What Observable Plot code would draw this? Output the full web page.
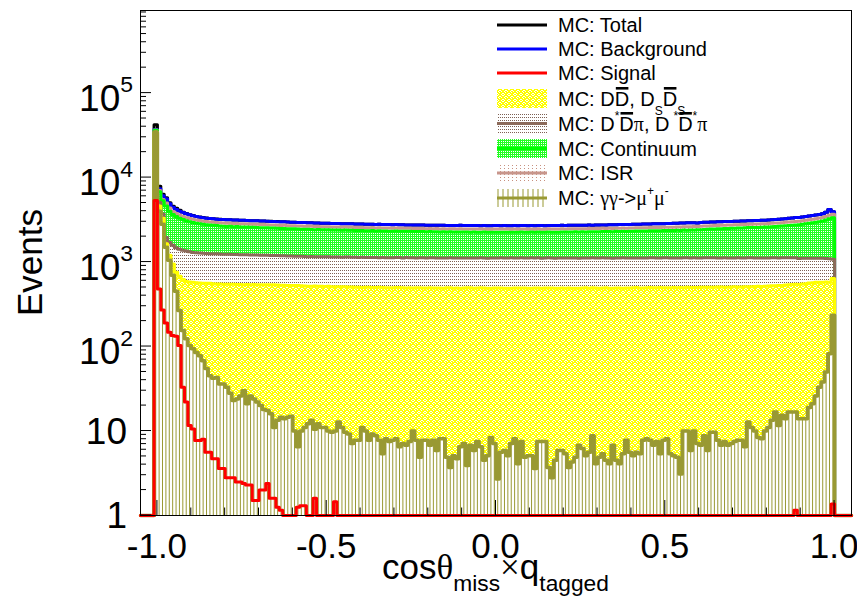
<!DOCTYPE html>
<html><head><meta charset="utf-8">
<script src="https://cdn.jsdelivr.net/npm/d3@7"></script>
<script src="https://cdn.jsdelivr.net/npm/@observablehq/plot@0.6"></script>
<style>body{margin:0;background:#fff}#chart svg{display:block}</style>
</head><body><div id="chart"></div>
<script>
// Histogram: 201 bins of width 0.01, from -1.01 to 1.00 (axis range -1.05 .. 1.05)
const binStart = -1.01, binWidth = 0.01;
const xTicks = [-1.0, -0.5, 0.0, 0.5, 1.0];
const xTickLabels = ["-1.0", "-0.5", "0.0", "0.5", "1.0"];
const yTicks = [1, 10, 100, 1000, 10000, 100000];
const legendLabels = ["MC: Total", "MC: Background", "MC: Signal", "MC: DD, DsDs", "MC: D*Dpi, D*D*pi", "MC: Continuum", "MC: ISR", "MC: gg->mumu"];

// MC: gamma gamma -> mu+ mu-
const gg = [34100,4000,2800,1500,1050,700,450,267,155,124,
103,94,85,78,68,55,45,42,43,36,
36,33,28,23,24,26,30,21,26,24,
22,20,18,17.5,16,11,13.4,14.6,14,14.6,
15,10,6.5,10,11,12.2,13.4,10.5,12.2,11,
11,10,9.7,10,12.8,11,9.7,9.2,7.1,7.8,
7.8,11,10,7.8,9.2,8.8,7.8,5.4,8.1,7.5,
7.8,8.1,6.5,7.1,6.8,7.5,10,7.8,4.9,7.8,
7.8,6.8,7.8,5.9,8.1,8.1,4.9,3.7,5.1,4.7,
6.5,7.1,3.9,6.8,5.9,7.5,6.5,4.5,5.1,8.4,
7.1,2.7,5.6,5.9,5.1,7.1,8.1,4.1,7.5,4.9,
5.1,5.1,3.6,7.5,7.5,7.5,3.7,2.8,4.5,5.9,
5.9,5.4,3.7,4.3,4.9,6.8,6.2,5.1,5.6,8.8,
4.1,4.9,5.4,4.5,4.1,6.8,4.5,4.1,5.4,7.8,
5.6,5.1,5.6,5.4,7.8,8.1,7.8,6.8,7.5,5.4,
7.8,8.1,5.4,5.1,4.9,3.1,10,10,5.9,10,
7.1,6.8,8.8,5.9,9.7,9.7,7.8,6.8,7.5,6.8,
7.1,7.5,7.8,7.8,6.5,12.8,11,10,8.4,8.1,
10,11,13.4,16.8,11.6,15.4,14,16.8,16.8,16.8,
14,14,14,19,21,26,33,38,50,82,
235];
// MC: D Dbar, Ds Dsbar
const dd = [300,600,500,150,150,250,310,410,465,466,
477,481,485,487,492,505,515,513,507,514,
512,515,518,522,520,516,510,522,514,518,
518,520,522,520,522,526,520,516,518,514,
512,518,520,514,510,506,504,510,506,506,
504,506,502,500,496,500,502,498,500,496,
494,490,492,496,492,490,494,496,488,490,
488,492,494,488,486,490,484,488,492,486,
486,490,484,488,486,482,490,492,486,488,
484,486,492,488,484,486,490,488,484,482,
486,490,488,484,486,482,484,490,486,488,
484,486,490,486,482,484,488,490,486,484,
488,486,490,486,484,482,486,490,484,488,
490,486,488,492,486,484,488,490,486,484,
488,490,494,488,486,490,492,488,490,494,
490,488,492,494,490,496,488,492,494,490,
492,496,494,498,492,494,498,500,496,498,
500,502,498,500,504,496,500,504,508,506,
508,510,512,508,516,514,520,522,526,528,
530,536,540,545,548,550,545,540,530,495,
405];
// MC: D* Dbar pi, D* D*bar pi
const dstar = [500,500,400,300,500,630,720,743,760,760,
740,725,720,715,710,700,695,695,700,695,
690,688,690,684,686,680,684,678,676,672,
670,668,664,666,660,656,660,654,652,650,
652,646,648,644,646,640,644,638,640,636,
640,636,638,640,636,632,636,640,634,636,
630,636,632,628,634,630,626,632,628,630,
626,632,628,624,636,628,630,622,626,630,
624,628,632,626,620,628,624,630,626,622,
628,624,620,626,630,622,626,628,624,628,
622,626,630,624,628,632,626,622,628,624,
628,632,624,628,622,626,630,624,620,626,
624,628,622,626,630,624,628,622,626,630,
622,626,630,624,628,620,626,624,630,622,
626,622,618,626,624,620,624,628,622,620,
624,626,620,618,624,620,626,622,618,624,
620,616,622,618,624,620,614,612,618,614,
612,610,616,612,606,614,610,604,600,604,
602,598,596,600,592,594,588,584,580,578,
560,556,552,548,542,532,528,528,524,520,
440];
// MC: Continuum
const cont = [1400,1700,1600,2650,2300,2070,1970,1880,1800,1730,
1680,1640,1590,1560,1530,1510,1485,1470,1450,1435,
1418,1405,1412,1392,1400,1386,1378,1384,1366,1360,
1362,1346,1350,1338,1326,1334,1320,1312,1318,1302,
1296,1304,1288,1284,1278,1286,1270,1262,1272,1258,
1254,1262,1248,1244,1252,1236,1242,1230,1238,1228,
1224,1232,1218,1214,1222,1206,1212,1204,1210,1196,
1192,1200,1188,1194,1180,1186,1176,1184,1170,1178,
1166,1172,1160,1168,1156,1164,1150,1158,1154,1148,
1156,1146,1152,1140,1150,1144,1138,1148,1142,1136,
1146,1140,1134,1144,1138,1132,1142,1136,1146,1140,
1134,1144,1138,1148,1140,1136,1146,1142,1150,1144,
1152,1146,1156,1150,1160,1154,1164,1158,1168,1162,
1172,1166,1178,1172,1184,1178,1190,1186,1196,1192,
1202,1198,1210,1206,1216,1212,1224,1220,1232,1228,
1240,1236,1248,1244,1256,1252,1264,1260,1272,1278,
1290,1300,1312,1322,1330,1342,1352,1360,1372,1380,
1392,1400,1408,1418,1426,1434,1440,1450,1456,1466,
1474,1484,1494,1510,1526,1540,1560,1580,1602,1630,
1660,1700,1740,1770,1810,1850,1900,1960,2050,2150,
2260];
// MC: ISR
const isr = [300,250,220,410,360,330,312,298,288,276,
270,266,258,256,250,248,246,242,244,240,
238,240,234,236,232,230,234,228,226,228,
224,226,222,224,220,222,218,220,216,218,
214,216,212,216,212,210,214,210,212,208,
210,206,210,208,206,208,204,208,206,204,
206,204,202,206,204,202,204,200,204,202,
200,204,202,200,202,200,204,202,198,202,
200,198,202,200,198,202,200,196,200,198,
200,198,196,200,198,202,196,200,198,196,
200,198,202,196,200,198,196,200,198,202,
198,200,196,202,198,200,204,198,202,200,
204,200,202,206,200,204,202,206,204,208,
204,208,206,210,206,210,208,212,210,214,
210,214,212,216,214,218,216,220,218,222,
220,224,222,226,224,228,226,230,228,232,
230,234,232,236,234,238,236,240,238,242,
240,244,242,246,244,248,246,250,248,252,
250,254,256,258,262,264,268,270,274,278,
280,284,288,292,296,300,306,312,318,326,
330];
// MC: Background (total)
const bkg = [37000,7400,6100,5600,4900,4450,4200,4000,3850,3740,
3620,3540,3460,3400,3350,3310,3280,3250,3220,3200,
3180,3165,3160,3140,3140,3120,3115,3105,3090,3080,
3075,3060,3055,3040,3030,3025,3010,3000,2995,2975,
2960,2960,2945,2935,2930,2920,2915,2900,2900,2885,
2880,2875,2870,2860,2860,2845,2845,2835,2840,2825,
2820,2820,2810,2805,2810,2790,2795,2785,2790,2775,
2765,2775,2765,2760,2755,2755,2750,2755,2740,2745,
2735,2735,2730,2730,2720,2725,2715,2715,2715,2705,
2720,2705,2705,2700,2705,2700,2690,2705,2695,2690,
2705,2700,2695,2700,2695,2690,2700,2695,2705,2700,
2695,2705,2695,2710,2700,2695,2710,2705,2710,2705,
2720,2710,2720,2720,2725,2720,2730,2730,2740,2735,
2740,2745,2750,2755,2760,2760,2770,2775,2785,2785,
2785,2795,2800,2810,2815,2820,2830,2835,2845,2850,
2840,2865,2870,2880,2885,2895,2900,2910,2915,2925,
2905,2940,2950,2965,2970,2985,2995,3005,3015,3025,
3025,3045,3050,3065,3070,3085,3090,3105,3110,3125,
3130,3145,3165,3185,3210,3230,3260,3290,3320,3360,
3380,3420,3460,3500,3550,3600,3660,3740,3880,4200,
3950];
// MC: Signal
const sig = [5340,480,270,190,148,135,132,103,33,22,11.6,10.6,7.7,7.7,8,5.6,5.6,4.7,4.7,3.6,
3.6,2.8,2.8,2.8,2.5,2.5,2.4,2.3,2.3,1.5,1.5,2,2,2.4,1.6,1.6,1.25,1.15,0,0,
0,0,1.25,1.3,1.3,0,0,1.6,0,0,0,0,0,1.45,0,0,0,0,0,0,
0,0,0,0,0,0,0,0,0,0,0,0,0,0,0,0,0,0,0,0,
0,0,0,0,0,0,0,0,0,0,0,0,0,0,0,0,0,0,0,0,
0,0,0,0,0,0,0,0,0,0,0,0,0,0,0,0,0,0,0,0,
0,0,0,0,0,0,0,0,0,0,0,0,0,0,0,0,0,0,0,0,
0,0,0,0,0,0,0,0,0,0,0,0,0,0,0,0,0,0,0,0,
0,0,0,0,0,0,0,0,0,0,0,0,0,0,0,0,0,0,0,0,
0,0,0,0,0,0,0,0,0,1.15,0,0,0,0,0,0,0,0,0,0,
1.37];

// ---- derived stacking (axis range padded with empty bins) ----
const NPL = 4, NPR = 5;
const pad = a => [...Array(NPL).fill(0), ...a, ...Array(NPR).fill(0)];
const NB = gg.length + NPL + NPR;
const lo = i => Math.round((binStart - NPL * binWidth + i * binWidth) * 1000) / 1000;
const hi = i => Math.round((binStart - NPL * binWidth + (i + 1) * binWidth) * 1000) / 1000;
const G = pad(gg), DD = pad(dd), DS = pad(dstar), CO = pad(cont), IS = pad(isr), BK = pad(bkg), SG = pad(sig);
const c1 = G;
const c2 = c1.map((v, i) => v + DD[i]);
const c3 = c2.map((v, i) => v + DS[i]);
const c4 = c3.map((v, i) => v + CO[i]);
const c5 = c4.map((v, i) => v + IS[i]);
const TOT = BK.map((v, i) => v + SG[i]);
const cl = v => Math.max(v, 1);
function steps(arr) { const p = []; for (let i = 0; i < NB; i++) { p.push({x: lo(i), y: cl(arr[i])}); p.push({x: hi(i), y: cl(arr[i])}); } return p; }
function band(lower, upper) { const p = []; for (let i = 0; i < NB; i++) { const a = cl(lower[i]), b = cl(upper[i]); p.push({x: lo(i), y1: a, y2: b}); p.push({x: hi(i), y1: a, y2: b}); } return p; }
const hatch = []; for (let i = 0; i < NB; i++) if (G[i] > 1) hatch.push({x: (lo(i) + hi(i)) / 2, y: G[i]});

const OLIVE = "#999933", BROWN = "#8c6a5a", ISRC = "#c8968c";
const FONT = "'Liberation Sans', Arial, Helvetica, sans-serif";
const GREEK = "'Liberation Serif', 'Times New Roman', serif";
const YMAX = 9.5e5;

const plot = Plot.plot({
  width: 857, height: 597,
  marginLeft: 140, marginRight: 6, marginTop: 10, marginBottom: 82,
  x: {domain: [-1.05, 1.05], axis: null},
  y: {type: "log", domain: [1, YMAX], axis: null},
  style: {background: "#fff", overflow: "visible"},
  marks: [
    Plot.line(steps(TOT), {x: "x", y: "y", stroke: "#000", strokeWidth: 3}),
    Plot.line(steps(BK), {x: "x", y: "y", stroke: "#0000ff", strokeWidth: 3}),
    Plot.areaY(band(c4, c5), {x: "x", y1: "y1", y2: "y2", fill: "url(#pIsr)"}),
    Plot.areaY(band(c3, c4), {x: "x", y1: "y1", y2: "y2", fill: "url(#pCont)"}),
    Plot.areaY(band(c2, c3), {x: "x", y1: "y1", y2: "y2", fill: "url(#pDst)"}),
    Plot.areaY(band(c1, c2), {x: "x", y1: "y1", y2: "y2", fill: "url(#pDD)"}),
    Plot.ruleX(hatch, {x: "x", y1: 1, y2: "y", stroke: OLIVE, strokeWidth: 1}),
    Plot.line(steps(c5), {x: "x", y: "y", stroke: ISRC, strokeWidth: 3}),
    Plot.line(steps(c4), {x: "x", y: "y", stroke: "#00ff00", strokeWidth: 3}),
    Plot.line(steps(c3), {x: "x", y: "y", stroke: BROWN, strokeWidth: 3}),
    Plot.line(steps(c2), {x: "x", y: "y", stroke: "#ffff00", strokeWidth: 3}),
    Plot.line(steps(c1), {x: "x", y: "y", stroke: OLIVE, strokeWidth: 3.5}),
    Plot.line(steps(SG), {x: "x", y: "y", stroke: "#ff0000", strokeWidth: 3}),
    Plot.frame({stroke: "#000", strokeWidth: 1})
  ]
});
document.getElementById("chart").append(plot);
const s = d3.select(plot);
const xs = plot.scale("x"), ys = plot.scale("y");
const X = v => xs.apply(v), Y = v => ys.apply(v);

// patterns
const defs = s.insert("defs", ":first-child");
function pat(id, w, h, bg, cells, col) {
  const p = defs.append("pattern").attr("id", id).attr("patternUnits", "userSpaceOnUse").attr("width", w).attr("height", h);
  p.append("rect").attr("width", w).attr("height", h).attr("fill", bg);
  for (const [a, b] of cells) p.append("rect").attr("x", a).attr("y", b).attr("width", 1).attr("height", 1).attr("fill", col);
}
pat("pDD", 6, 6, "#ffff00", [[1,0],[2,0],[0,1],[3,1],[1,2],[4,3],[5,3],[3,4],[0,4],[4,5],[5,5]], "#ffffff");
pat("pDst", 2, 3, "#ffffff", [[0,0]], "#7d6052");
pat("pCont", 2, 2, "#22ff22", [[1,1]], "#ffffff");
pat("pIsr", 4, 3, "#ffffff", [[0,0]], "#c8907e");

// axes ticks
const L = X(-1.05), B = Y(1);
const ax = s.append("g").attr("stroke", "#000").attr("stroke-width", 1);
for (let e = 0; e <= 6; e++) {
  for (let m = 1; m <= 9; m++) {
    const v = m * Math.pow(10, e);
    if (v > YMAX) continue;
    const len = m === 1 ? 11 : 6;
    ax.append("line").attr("x1", L).attr("x2", L + len).attr("y1", Y(v)).attr("y2", Y(v));
  }
}
for (let k = -10; k <= 10; k++) {
  const v = k / 10, len = (k % 5 === 0) ? 15 : 7.5;
  ax.append("line").attr("x1", X(v)).attr("x2", X(v)).attr("y1", B).attr("y2", B - len);
}

// rich text helper (left-anchored runs)
function rich(parent, segs, size) {
  const g = parent.append("g").attr("text-anchor", "start");
  let cx = 0;
  for (const sg of segs) {
    const k = sg.sub || sg.sup ? (sg.k || 0.6) : 1;
    const fs = size * k;
    const dy = sg.sub ? size * (sg.dy != null ? sg.dy : 0.45) : sg.sup ? -size * (sg.dy != null ? sg.dy : 0.5) : 0;
    const t = g.append("text").attr("x", cx).attr("y", dy).attr("text-anchor", "start")
      .attr("font-family", sg.greek ? GREEK : FONT).attr("font-size", fs).attr("fill", "#000")
      .style("white-space", "pre").text(sg.t);
    const w = t.node().getComputedTextLength();
    if (sg.bar) g.append("line").attr("x1", cx + w * 0.08).attr("x2", cx + w * 0.95)
      .attr("y1", dy - fs * 0.86).attr("y2", dy - fs * 0.86).attr("stroke", "#000").attr("stroke-width", fs * 0.13);
    cx += w + (sg.gap || 0);
  }
  return {g, w: cx};
}

// y tick labels
const TL = 37;
yTicks.forEach(v => {
  const e = Math.round(Math.log10(v));
  const segs = e <= 1 ? [{t: String(v)}] : [{t: "10"}, {t: String(e), sup: true, k: 0.62, dy: 0.5}];
  const r = rich(s, segs, TL);
  const base = Y(v) + TL * 0.358 + (e > 1 ? 5 : 0);
  r.g.attr("transform", `translate(${(e > 1 ? 133 : 127) - r.w},${base})`);
});
// x tick labels
xTicks.forEach((v, i) => {
  s.append("text").attr("x", X(v)).attr("y", 558).attr("text-anchor", "middle")
    .attr("font-family", FONT).attr("font-size", 35).attr("fill", "#000").text(xTickLabels[i]);
});
// axis titles
s.append("text").attr("transform", `translate(42,${(Y(YMAX) + B) / 2}) rotate(-90)`).attr("text-anchor", "middle")
  .attr("font-family", FONT).attr("font-size", 35).attr("fill", "#000").text("Events");
const xt = rich(s, [{t: "cos"}, {t: "θ", greek: true}, {t: "miss", sub: true, k: 0.65, dy: 0.34}, {t: "×", greek: true}, {t: "q"}, {t: "tagged", sub: true, k: 0.65, dy: 0.34}], 35);
xt.g.attr("transform", `translate(${(L + X(1.05)) / 2 - xt.w / 2},579)`);

// legend
const lg = s.append("g");
const LX1 = 497, LX2 = 547, TX = 558, LS = 20;
const rows = [
  {y: 25, kind: "line", c: "#000", segs: [{t: legendLabels[0]}]},
  {y: 49, kind: "line", c: "#0000ff", segs: [{t: legendLabels[1]}]},
  {y: 73, kind: "line", c: "#ff0000", segs: [{t: legendLabels[2]}]},
  {y: 98.5, kind: "box", f: "url(#pDD)", c: null, segs: [{t: "MC: D"}, {t: "D", bar: true}, {t: ", D"}, {t: "S", sub: true}, {t: "D", bar: true}, {t: "S", sub: true}]},
  {y: 123.5, kind: "box", f: "url(#pDst)", c: BROWN, segs: [{t: "MC: D"}, {t: "*", sup: true, dy: 0.55}, {t: "D", bar: true}, {t: "π", greek: true}, {t: ", D", gap: 4}, {t: "*", sup: true, dy: 0.55}, {t: "D", bar: true}, {t: "*", sup: true, dy: 0.55}, {t: "π", greek: true}]},
  {y: 148.5, kind: "box", f: "url(#pCont)", c: "#00ff00", segs: [{t: legendLabels[5]}]},
  {y: 173, kind: "box", f: "url(#pIsr)", c: ISRC, segs: [{t: legendLabels[6]}]},
  {y: 198, kind: "hatch", c: OLIVE, segs: [{t: "MC: "}, {t: "γγ", greek: true}, {t: "->"}, {t: "μ", greek: true}, {t: "+", sup: true}, {t: "μ", greek: true}, {t: "-", sup: true}]}
];
rows.forEach(r => {
  if (r.kind === "box") {
    lg.append("rect").attr("x", LX1).attr("y", r.y - 9.5).attr("width", LX2 - LX1).attr("height", 19).attr("fill", r.f);
  }
  if (r.kind === "hatch") {
    for (let xx = LX1 + 1; xx <= LX2; xx += 5) lg.append("line").attr("x1", xx).attr("x2", xx).attr("y1", r.y - 9).attr("y2", r.y + 9).attr("stroke", r.c).attr("stroke-width", 1);
  }
  if (r.c) lg.append("line").attr("x1", LX1).attr("x2", LX2).attr("y1", r.y).attr("y2", r.y).attr("stroke", r.c).attr("stroke-width", 3);
  const t = rich(lg, r.segs, LS);
  t.g.attr("transform", `translate(${TX},${r.y + 7})`);
});
</script></body></html>
